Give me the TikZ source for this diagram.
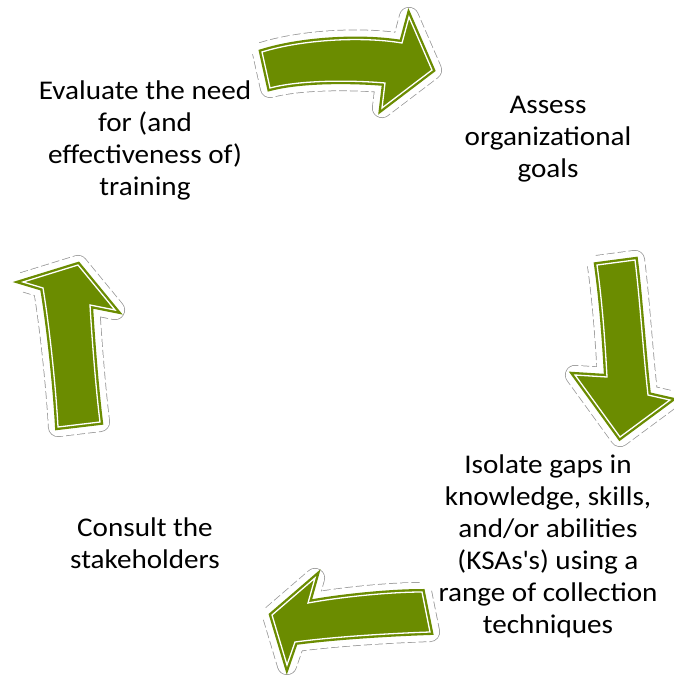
\documentclass[tikz,border=0pt]{standalone}
\usepackage{fontspec}
\setmainfont{Carlito}[FakeStretch=1.08]
\definecolor{arrowgreen}{RGB}{107,140,0}
\definecolor{outline}{RGB}{150,150,150}
\tikzset{
  lbl/.style={align=center, font=\fontsize{27}{32}\selectfont, text=black, inner sep=0pt},
}
\newcommand{\fancyarrow}[1]{%
  \draw[outline, line width=20pt, dash pattern=on 8pt off 3pt, line join=round] #1;
  \draw[white, line width=18.5pt, line join=round] #1;
  \fill[arrowgreen] #1;
  \draw[arrowgreen, line width=6pt, line join=miter] #1;
  \draw[white, line width=1.3pt, line join=miter] #1;
}
\begin{document}
\begin{tikzpicture}[x=1pt,y=-1pt]
\useasboundingbox (0,0) rectangle (673,675);
% top arrow
\fancyarrow{(262,52) .. controls (300,40) and (360,36) .. (402,43) -- (409,17) -- (432,70) -- (382,108) -- (385,83) .. controls (350,80) and (300,80) .. (270,88) -- cycle}
% right arrow
\fancyarrow{(597,265) -- (635,260) .. controls (640,300) and (643,350) .. (648,395) -- (670,400) -- (620,437) -- (575,375) -- (607,377) .. controls (605,340) and (602,300) .. (597,265) -- cycle}
% bottom arrow
\fancyarrow{(272,615) -- (315,578) -- (308,603) .. controls (340,597) and (390,592) .. (422,592) -- (430,632) .. controls (400,633) and (340,636) .. (295,642) -- (287,665) -- cycle}
% left arrow
\fancyarrow{(23,282) -- (78,265) -- (115,310) -- (90,305) .. controls (92,340) and (96,390) .. (100,422) -- (58,427) .. controls (56,390) and (50,330) .. (43,288) -- cycle}

\node[lbl] (eval) at (145,140) {Evaluate the need\\for (and\\effectiveness of)\\training};
\node[lbl] (assess) at (548,139) {Assess\\organizational\\goals};
\node[lbl] (isolate) at (548,546) {Isolate gaps in\\knowledge, skills,\\and/or abilities\\(KSAs\textquotesingle s) using a\\range of collection\\techniques};
\node[lbl] (consult) at (145,543) {Consult the\\stakeholders};
\end{tikzpicture}
\end{document}
